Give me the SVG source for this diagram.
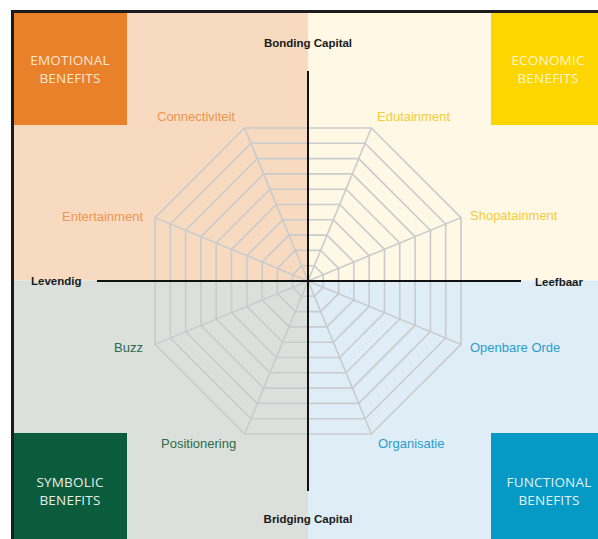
<svg xmlns="http://www.w3.org/2000/svg" width="598" height="539" viewBox="0 0 598 539">
<style>
.web{fill:none;stroke:#C9CBCD;stroke-width:1.6}
.axis{stroke:#111;stroke-width:2}
.lab{font-family:"Liberation Sans",Arial,sans-serif;font-size:13px}
.ax{font-family:"Liberation Sans",Arial,sans-serif;font-size:11.5px;font-weight:bold;fill:#1a1a1a}
.ben{font-family:"Open Sans","DejaVu Sans",sans-serif;font-size:13.5px;text-anchor:middle;letter-spacing:0.2px}
.or{fill:#EC9650}.ye{fill:#F5CC38}.gr{fill:#2E6B49}.bl{fill:#2A9DCB}
</style>
<rect width="598" height="539" fill="#fff"/>
<g id="quadrants">
<rect x="13" y="12" width="295" height="268.5" fill="#F8DAC0"/>
<rect x="308" y="12" width="290" height="268.5" fill="#FEF8E5"/>
<rect x="13" y="280.5" width="295" height="258.5" fill="#DCE0DD"/>
<rect x="308" y="280.5" width="290" height="258.5" fill="#DFEDF6"/>
</g>
<g id="frame" stroke="#1c1c1c" stroke-width="3" fill="none">
<line x1="12.5" y1="11.5" x2="598" y2="11.5"/>
<line x1="12.5" y1="10" x2="12.5" y2="539"/>
</g>
<g id="emotional">
<rect x="14" y="13" width="113" height="112" fill="#E8812A"/>
<text class="ben" x="70" y="65" fill="#FCE6D2">EMOTIONAL</text>
<text class="ben" x="70" y="83" fill="#FCE6D2">BENEFITS</text>
</g>
<g id="economic">
<rect x="491" y="13" width="107" height="112" fill="#FDD500"/>
<text class="ben" x="548" y="65" fill="#FFF6CF">ECONOMIC</text>
<text class="ben" x="548" y="83" fill="#FFF6CF">BENEFITS</text>
</g>
<g id="symbolic">
<rect x="14" y="433" width="113" height="106" fill="#0B5B3D"/>
<text class="ben" x="70" y="487" fill="#E8EFEA">SYMBOLIC</text>
<text class="ben" x="70" y="505" fill="#E8EFEA">BENEFITS</text>
</g>
<g id="functional">
<rect x="491" y="433" width="107" height="106" fill="#0599C5"/>
<text class="ben" x="549" y="487" fill="#E3F2F8">FUNCTIONAL</text>
<text class="ben" x="549" y="505" fill="#E3F2F8">BENEFITS</text>
</g>
<g id="web" class="web" transform="translate(308,281)">
<polygon points="15.3,-6.34 6.34,-15.3 -6.34,-15.3 -15.3,-6.34 -15.3,6.34 -6.34,15.3 6.34,15.3 15.3,6.34"/>
<polygon points="30.6,-12.68 12.68,-30.6 -12.68,-30.6 -30.6,-12.68 -30.6,12.68 -12.68,30.6 12.68,30.6 30.6,12.68"/>
<polygon points="45.9,-19.01 19.01,-45.9 -19.01,-45.9 -45.9,-19.01 -45.9,19.01 -19.01,45.9 19.01,45.9 45.9,19.01"/>
<polygon points="61.2,-25.35 25.35,-61.2 -25.35,-61.2 -61.2,-25.35 -61.2,25.35 -25.35,61.2 25.35,61.2 61.2,25.35"/>
<polygon points="76.5,-31.69 31.69,-76.5 -31.69,-76.5 -76.5,-31.69 -76.5,31.69 -31.69,76.5 31.69,76.5 76.5,31.69"/>
<polygon points="91.8,-38.03 38.03,-91.8 -38.03,-91.8 -91.8,-38.03 -91.8,38.03 -38.03,91.8 38.03,91.8 91.8,38.03"/>
<polygon points="107.1,-44.36 44.36,-107.1 -44.36,-107.1 -107.1,-44.36 -107.1,44.36 -44.36,107.1 44.36,107.1 107.1,44.36"/>
<polygon points="122.4,-50.7 50.7,-122.4 -50.7,-122.4 -122.4,-50.7 -122.4,50.7 -50.7,122.4 50.7,122.4 122.4,50.7"/>
<polygon points="137.7,-57.04 57.04,-137.7 -57.04,-137.7 -137.7,-57.04 -137.7,57.04 -57.04,137.7 57.04,137.7 137.7,57.04"/>
<polygon points="153,-63.37 63.37,-153 -63.37,-153 -153,-63.37 -153,63.37 -63.37,153 63.37,153 153,63.37"/>
<path d="M0,0L153,-63.37M0,0L63.37,-153M0,0L-63.37,-153M0,0L-153,-63.37M0,0L-153,63.37M0,0L-63.37,153M0,0L63.37,153M0,0L153,63.37"/>
</g>
<g id="connectors">
<line class="axis" x1="97" y1="281" x2="521" y2="281"/>
<line class="axis" x1="308" y1="71" x2="308" y2="491"/>
</g>
<g id="axis-labels">
<text class="ax" x="308" y="47" text-anchor="middle">Bonding Capital</text>
<text class="ax" x="308" y="523" text-anchor="middle">Bridging Capital</text>
<text class="ax" x="31" y="285">Levendig</text>
<text class="ax" x="535" y="286">Leefbaar</text>
</g>
<g id="labels">
<text class="lab or" x="157" y="121">Connectiviteit</text>
<text class="lab ye" x="377" y="121">Edutainment</text>
<text class="lab or" x="143" y="221" text-anchor="end">Entertainment</text>
<text class="lab ye" x="470" y="220">Shopatainment</text>
<text class="lab gr" x="143" y="352" text-anchor="end">Buzz</text>
<text class="lab bl" x="470" y="352">Openbare Orde</text>
<text class="lab gr" x="161" y="448">Positionering</text>
<text class="lab bl" x="378" y="448">Organisatie</text>
</g>
</svg>
